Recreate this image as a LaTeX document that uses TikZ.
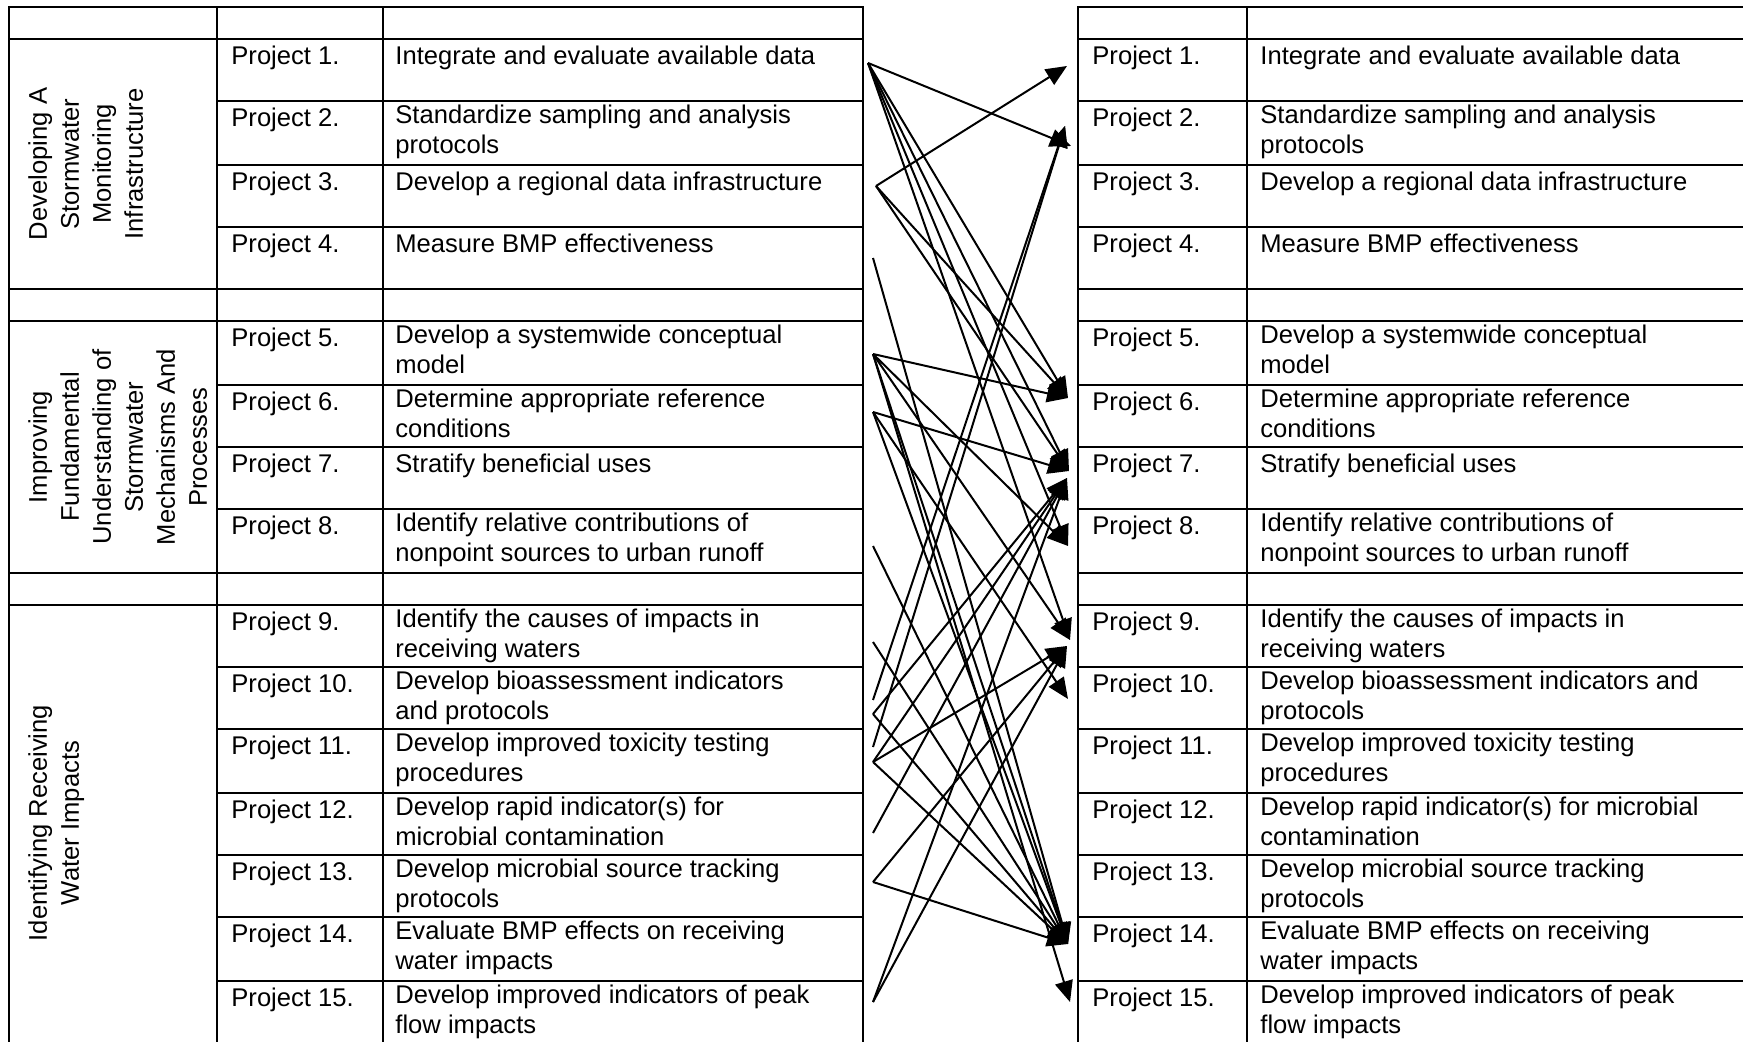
\documentclass[tikz,border=0pt]{standalone}
\usepackage{fontspec}
\setmainfont{Liberation Sans}
\usetikzlibrary{arrows.meta}
\newcommand{\cellfont}{\fontsize{12.8}{15}\selectfont}
\newcommand{\sidefont}{\fontsize{12.8}{16}\selectfont}

\begin{document}
\begin{tikzpicture}[x=0.5pt,y=-0.5pt,
    tabline/.style={line width=1.1pt,line cap=rect},
    cell/.style={anchor=north west,inner sep=0pt,align=left,font=\cellfont,execute at begin node=\strut},
    side/.style={rotate=90,anchor=north,inner sep=0pt,align=center,font=\sidefont},
    arr/.style={-{Triangle[length=10.5pt,width=9pt]},line width=1pt}]
    \useasboundingbox (0,0) rectangle (1743,1042);

    \foreach \y in {7,39,289,321,573,605}
        \draw [tabline] (9,\y)--(863,\y);
    \foreach \y in {101,165,227,385,447,509,667,729,793,855,917,981}
        \draw [tabline] (217,\y)--(863,\y);
    \foreach \y in {7,39,101,165,227,289,321,385,447,509,573,605,667,729,793,855,917,981}
        \draw [tabline] (1078,\y)--(1760,\y);
    \foreach \x in {9,217,383,863,1078,1247}
        \draw [tabline] (\x,7)--(\x,1050);

    \node [side] (g1) at (28,164) {Developing A\\Stormwater\\Monitoring\\Infrastructure};
    \node [side] (g2) at (28,447) {Improving\\Fundamental\\Understanding of\\Stormwater\\Mechanisms And\\Processes};
    \node [side] (g3) at (28,823) {Identifying Receiving\\Water Impacts};

    \foreach \n/\y in {1/39,2/101,3/165,4/227,5/321,6/385,7/447,8/509,9/605,10/667,11/729,12/793,13/855,14/917,15/981}{
        \node [cell] (lp\n) at (231,\y+4) {Project \n.};
        \node [cell] (rp\n) at (1092,\y+4) {Project \n.};
    }

    \node [cell] (ld1) at (395,43) {Integrate and evaluate available data};
    \node [cell] (ld2) at (395,105) {Standardize sampling and analysis\\protocols};
    \node [cell] (ld3) at (395,169) {Develop a regional data infrastructure};
    \node [cell] (ld4) at (395,231) {Measure BMP effectiveness};
    \node [cell] (ld5) at (395,325) {Develop a systemwide conceptual\\model};
    \node [cell] (ld6) at (395,389) {Determine appropriate reference\\conditions};
    \node [cell] (ld7) at (395,451) {Stratify beneficial uses};
    \node [cell] (ld8) at (395,513) {Identify relative contributions of\\nonpoint sources to urban runoff};
    \node [cell] (ld9) at (395,609) {Identify the causes of impacts in\\receiving waters};
    \node [cell] (ld10) at (395,671) {Develop bioassessment indicators\\and protocols};
    \node [cell] (ld11) at (395,733) {Develop improved toxicity testing\\procedures};
    \node [cell] (ld12) at (395,797) {Develop rapid indicator(s) for\\microbial contamination};
    \node [cell] (ld13) at (395,859) {Develop microbial source tracking\\protocols};
    \node [cell] (ld14) at (395,921) {Evaluate BMP effects on receiving\\water impacts};
    \node [cell] (ld15) at (395,985) {Develop improved indicators of peak\\flow impacts};

    \node [cell] (rd1) at (1260,43) {Integrate and evaluate available data};
    \node [cell] (rd2) at (1260,105) {Standardize sampling and analysis\\protocols};
    \node [cell] (rd3) at (1260,169) {Develop a regional data infrastructure};
    \node [cell] (rd4) at (1260,231) {Measure BMP effectiveness};
    \node [cell] (rd5) at (1260,325) {Develop a systemwide conceptual\\model};
    \node [cell] (rd6) at (1260,389) {Determine appropriate reference\\conditions};
    \node [cell] (rd7) at (1260,451) {Stratify beneficial uses};
    \node [cell] (rd8) at (1260,513) {Identify relative contributions of\\nonpoint sources to urban runoff};
    \node [cell] (rd9) at (1260,609) {Identify the causes of impacts in\\receiving waters};
    \node [cell] (rd10) at (1260,671) {Develop bioassessment indicators and\\protocols};
    \node [cell] (rd11) at (1260,733) {Develop improved toxicity testing\\procedures};
    \node [cell] (rd12) at (1260,797) {Develop rapid indicator(s) for microbial\\contamination};
    \node [cell] (rd13) at (1260,859) {Develop microbial source tracking\\protocols};
    \node [cell] (rd14) at (1260,921) {Evaluate BMP effects on receiving\\water impacts};
    \node [cell] (rd15) at (1260,985) {Develop improved indicators of peak\\flow impacts};

    \coordinate (s1) at (868,63);
    \coordinate (s3) at (876,186);
    \coordinate (s4) at (873,258);
    \coordinate (s5) at (873,354);
    \coordinate (s6) at (873,412);
    \coordinate (s8) at (873,546);
    \coordinate (s9) at (873,642);
    \coordinate (s10a) at (873,700);
    \coordinate (s10b) at (873,714);
    \coordinate (s11a) at (873,747);
    \coordinate (s11b) at (873,762);
    \coordinate (s12) at (873,833);
    \coordinate (s13) at (873,882);
    \coordinate (s15) at (873,1002);

    \coordinate (t1) at (1067,66);
    \coordinate (t2a) at (1071,146);
    \coordinate (t2b) at (1065,126);
    \coordinate (t6) at (1068,398);
    \coordinate (t7a) at (1069,471);
    \coordinate (t7b) at (1067,478);
    \coordinate (t8) at (1068,546);
    \coordinate (t9a) at (1070,640);
    \coordinate (t9b) at (1067,646);
    \coordinate (t10) at (1068,699);
    \coordinate (t14) at (1068,944);
    \coordinate (t15) at (1070,1002);

    \draw [arr] (s1)--(t2a);
    \draw [arr] (s1)--(t6);
    \draw [arr] (s1)--(t7a);
    \draw [arr] (s1)--(t8);
    \draw [arr] (s1)--(t9a);
    \draw [arr] (s3)--(t1);
    \draw [arr] (s3)--(t6);
    \draw [arr] (s3)--(t7a);
    \draw [arr] (s4)--(t14);
    \draw [arr] (s5)--(t6);
    \draw [arr] (s5)--(t8);
    \draw [arr] (s5)--(t9a);
    \draw [arr] (s5)--(t14);
    \draw [arr] (s5)--(t15);
    \draw [arr] (s6)--(t7a);
    \draw [arr] (s6)--(t10);
    \draw [arr] (s6)--(t14);
    \draw [arr] (s8)--(t14);
    \draw [arr] (s9)--(t14);
    \draw [arr] (s10a)--(t2b);
    \draw [arr] (s10b)--(t7b);
    \draw [arr] (s10b)--(t14);
    \draw [arr] (s11a)--(t2b);
    \draw [arr] (s11b)--(t7b);
    \draw [arr] (s11b)--(t9b);
    \draw [arr] (s11b)--(t14);
    \draw [arr] (s12)--(t7b);
    \draw [arr] (s13)--(t9b);
    \draw [arr] (s13)--(t14);
    \draw [arr] (s15)--(t7b);
    \draw [arr] (s15)--(t9b);
\end{tikzpicture}
\end{document}
